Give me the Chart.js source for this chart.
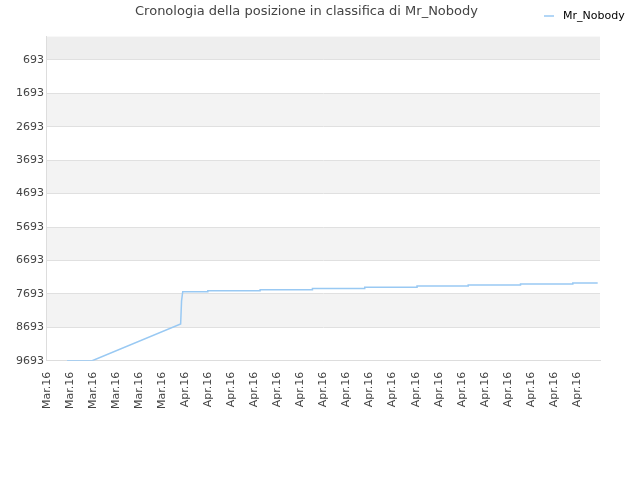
<!DOCTYPE html>
<html><head><meta charset="utf-8">
<script src="https://cdn.jsdelivr.net/npm/chart.js@4"></script>
<style>body{margin:0;background:#fff}#wrap{width:640px;height:480px}</style>
</head><body><div id="wrap"><canvas id="c"></canvas></div>
<script>
const xLabels = ['Mar.16','Mar.16','Mar.16','Mar.16','Mar.16','Mar.16','Apr.16','Apr.16','Apr.16','Apr.16','Apr.16','Apr.16','Apr.16','Apr.16','Apr.16','Apr.16','Apr.16','Apr.16','Apr.16','Apr.16','Apr.16','Apr.16','Apr.16','Apr.16'];
const yTicks = [693,1693,2693,3693,4693,5693,6693,7693,8693,9693];
const posX = [0.87,1.96,5.8,5.84,5.89,6.98,6.98,9.25,9.25,11.52,11.52,13.79,13.79,16.06,16.06,18.28,18.28,20.55,20.55,22.82,22.82,23.9];
const posY = [9693,9693,8590,7900,7632,7632,7600,7600,7565,7565,7530,7530,7495,7495,7460,7460,7430,7430,7400,7400,7370,7370];
const seriesName = 'Mr_Nobody';

const bands = {
  id: 'bands',
  beforeDraw(chart) {
    const {ctx, chartArea: a, scales: {y}} = chart;
    const edges = [y.min, ...yTicks, y.max];
    ctx.save();
    for (let i = 0; i < edges.length - 1; i++) {
      const t = y.getPixelForValue(edges[i]), b = y.getPixelForValue(edges[i + 1]);
      ctx.fillStyle = i === 0 ? '#eeeeee' : (i % 2 === 0 ? '#f3f3f3' : '#ffffff');
      ctx.fillRect(a.left, t, a.right - a.left, b - t);
    }
    ctx.restore();
  },
  afterDraw(chart) {
    // legend sits on the title line, top right
    const ctx = chart.ctx;
    ctx.save();
    ctx.strokeStyle = '#99c9f3';
    ctx.lineWidth = 1.5;
    ctx.beginPath(); ctx.moveTo(544, 16); ctx.lineTo(554, 16); ctx.stroke();
    ctx.fillStyle = '#000';
    ctx.font = '11px "DejaVu Sans"';
    ctx.textBaseline = 'middle';
    ctx.fillText(seriesName, 563, 16);
    ctx.restore();
  }
};

new Chart(document.getElementById('c'), {
  type: 'line',
  data: {
    datasets: [{
      label: seriesName,
      data: posX.map((x, i) => ({x, y: posY[i]})),
      borderColor: '#99c9f3',
      borderWidth: 1.5,
      pointRadius: 0,
      tension: 0
    }]
  },
  options: {
    responsive: true,
    maintainAspectRatio: false,
    animation: false,
    layout: { padding: { left: 13, right: 40, bottom: 68 } },
    scales: {
      x: {
        type: 'linear', min: 0, max: 24,
        afterBuildTicks: s => { s.ticks = xLabels.map((l, i) => ({value: i})); },
        ticks: { callback: (v) => xLabels[v], maxRotation: 90, minRotation: 90, autoSkip: false, color: '#444', font: { size: 11, family: 'DejaVu Sans' } },
        grid: { display: false },
        border: { color: '#dddddd' }
      },
      y: {
        reverse: true, min: -5, max: 9693,
        afterBuildTicks: s => { s.ticks = yTicks.map(v => ({value: v})); },
        ticks: { callback: v => String(v), color: '#444', font: { size: 11, family: 'DejaVu Sans' } },
        grid: { color: '#e0e0e0', drawTicks: false },
        border: { color: '#dddddd' }
      }
    },
    plugins: {
      title: { display: true, text: 'Cronologia della posizione in classifica di Mr_Nobody', color: '#444', font: { size: 13, family: 'DejaVu Sans', weight: 'normal' }, padding: { top: 4, bottom: 17 } },
      legend: { display: false },
      tooltip: { enabled: false }
    }
  },
  plugins: [bands]
});
</script></body></html>
